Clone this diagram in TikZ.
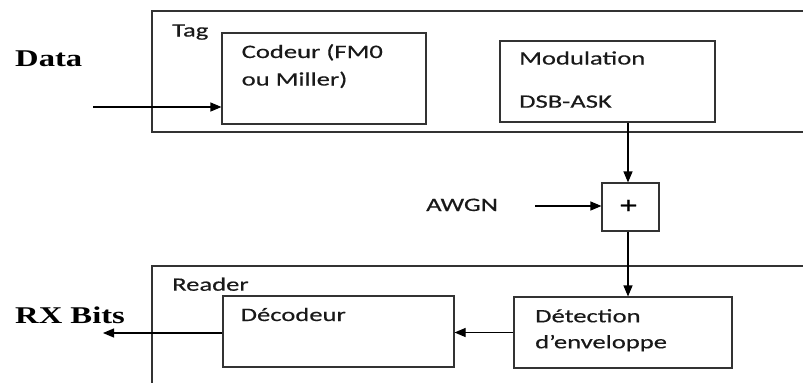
\documentclass[tikz,border=0pt]{standalone}
\usepackage{fontspec}
\setmainfont{Carlito}
\newfontfamily\boxfont[FakeStretch=1.4,FakeBold=0.4]{Carlito}
\newfontfamily\bigfont[FakeStretch=1.36]{Liberation Serif}
\usetikzlibrary{arrows.meta}
\begin{document}
\begin{tikzpicture}[x=1pt,y=-1pt,
  frame/.style={draw=black!80, line width=1.1pt},
  blk/.style={draw=black!80, line width=1.1pt, inner sep=0, rectangle},
  lbl/.style={anchor=base west, inner sep=0, text=black!90, font=\boxfont\fontsize{19}{19}\selectfont},
  big/.style={anchor=base west, inner sep=0, font=\bigfont\bfseries\fontsize{24}{24}\selectfont},
  arr/.style={-{Triangle[length=11pt,width=9pt]}, line width=1.1pt}]
\useasboundingbox (0,0) rectangle (803,383);
% outer frames
\draw[frame] (803,11) -- (152,11) -- (152,132) -- (803,132);
\draw[frame] (803,266) -- (152,266) -- (152,383);
% boxes
\node[blk, minimum width=204pt, minimum height=91pt] (cod) at (324,78.5) {};
\node[blk, minimum width=215pt, minimum height=81pt] (mod) at (607.5,81.5) {};
\node[blk, minimum width=57pt, minimum height=48pt] (plus) at (630.5,207) {};
\node[inner sep=0, font=\boxfont\fontsize{24}{24}\selectfont] (plusign) at (628.5,206.5) {+};
\node[blk, minimum width=218pt, minimum height=71pt] (det) at (623,332.5) {};
\node[blk, minimum width=231pt, minimum height=71pt] (dec) at (338.5,331.5) {};
% texts
\node[lbl] (tag) at (172,36.5) {Tag};
\node[lbl] (t1) at (241.5,58) {Codeur (FM0};
\node[lbl] (t2) at (241.5,85.5) {ou Miller)};
\node[lbl] (t3) at (519,64.5) {Modulation};
\node[lbl] (t4) at (519,107.7) {DSB-ASK};
\node[lbl] (awgn) at (426,211) {AWGN};
\node[lbl] (reader) at (172,290.7) {Reader};
\node[lbl] (t5) at (240.5,321) {Décodeur};
\node[lbl] (t6) at (535,322.3) {Détection};
\node[lbl] (t7) at (535,348.3) {d’enveloppe};
\node[big] (data) at (15,66.5) {Data};
\node[big] (rxb) at (15,323.3) {RX Bits};
% connectors
\coordinate (v) at (628,0);
\coordinate (din) at (93,107);
\coordinate (ain) at (535,206);
\coordinate (rx) at (103,333);
\draw[arr] (din) -- (din -| cod.west);
\draw[arr] (mod.south -| v) -- (plus.north -| v);
\draw[arr] (ain) -- (ain -| plus.west);
\draw[arr] (plus.south -| v) -- (det.north -| v);
\draw[arr] (det.west) -- (det.west -| dec.east);
\draw[arr] (dec.west |- rx) -- (rx);
\end{tikzpicture}
\end{document}
